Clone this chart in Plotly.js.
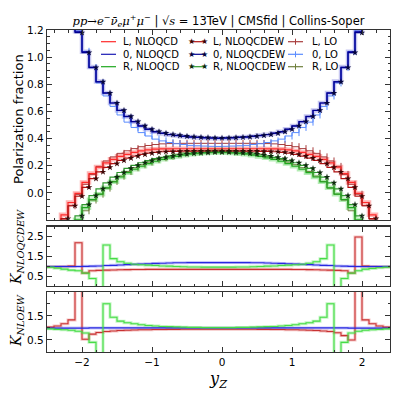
<!DOCTYPE html>
<html>
<head>
<meta charset="utf-8">
<script src="https://cdn.plot.ly/plotly-3.0.1.min.js"></script>
<style>
  html, body { margin: 0; padding: 0; background: #fff; }
  #chart { width: 399px; height: 399px; }
</style>
</head>
<body>
<div id="chart"></div>
<script>
// yZ bin positions (each value is drawn as a step ending at its x, like mpl step 'pre')
const yZ = [-2.5,-2.4,-2.3,-2.2,-2.1,-2.0,-1.9,-1.8,-1.7,-1.6,-1.5,-1.4,-1.3,-1.2,-1.1,-1.0,-0.9,-0.8,-0.7,-0.6,-0.5,-0.4,-0.3,-0.2,-0.1,0.0,
            0.1,0.2,0.3,0.4,0.5,0.6,0.7,0.8,0.9,1.0,1.1,1.2,1.3,1.4,1.5,1.6,1.7,1.8,1.9,2.0,2.1,2.2,2.3,2.4,2.5];

// polarization fractions, longitudinal (0)
const f0_nloqcd   = [2.57,2.17,1.84,1.57,1.37,1.19,1.04,0.927,0.82,0.736,0.662,0.607,0.562,0.524,0.492,0.468,0.45,0.438,0.428,0.422,0.416,0.411,0.408,0.405,0.403,0.402,
                     0.403,0.405,0.408,0.411,0.416,0.422,0.428,0.438,0.45,0.468,0.492,0.524,0.562,0.607,0.662,0.736,0.82,0.927,1.04,1.19,1.37,1.57,1.84,2.17,2.57];
const f0_nloqcdew = [2.55,2.15,1.82,1.56,1.36,1.18,1.033,0.923,0.818,0.735,0.662,0.608,0.563,0.525,0.493,0.469,0.451,0.44,0.43,0.424,0.418,0.413,0.41,0.407,0.405,0.404,
                     0.405,0.407,0.41,0.413,0.418,0.424,0.43,0.44,0.451,0.469,0.493,0.525,0.563,0.608,0.662,0.735,0.818,0.923,1.033,1.18,1.36,1.56,1.82,2.15,2.55];
const f0_lo       = [2.6,2.19,1.86,1.59,1.39,1.2,1.043,0.923,0.81,0.714,0.637,0.574,0.521,0.482,0.444,0.419,0.396,0.383,0.371,0.362,0.356,0.35,0.347,0.345,0.343,0.342,
                     0.343,0.345,0.347,0.35,0.356,0.362,0.371,0.383,0.396,0.419,0.444,0.482,0.521,0.574,0.637,0.714,0.81,0.923,1.043,1.2,1.39,1.59,1.86,2.19,2.6];
// left-handed (L)
const fL_nloqcd   = [-0.485,-0.388,-0.278,-0.162,-0.071,-0.004,0.077,0.142,0.19,0.221,0.247,0.269,0.284,0.298,0.309,0.317,0.322,0.324,0.324,0.325,0.325,0.325,0.325,0.325,0.325,0.325,
                     0.325,0.325,0.325,0.325,0.325,0.325,0.324,0.324,0.322,0.317,0.309,0.298,0.284,0.269,0.247,0.221,0.19,0.142,0.077,-0.004,-0.071,-0.162,-0.278,-0.388,-0.485];
const fL_nloqcdew = [-0.5,-0.4,-0.3,-0.19,-0.095,-0.025,0.041,0.105,0.154,0.188,0.215,0.239,0.256,0.271,0.284,0.293,0.299,0.303,0.305,0.306,0.307,0.307,0.307,0.307,0.307,0.307,
                     0.307,0.307,0.307,0.307,0.307,0.306,0.305,0.303,0.299,0.293,0.284,0.271,0.256,0.239,0.215,0.188,0.154,0.105,0.041,-0.025,-0.095,-0.19,-0.3,-0.4,-0.5];
const fL_lo       = [-0.515,-0.412,-0.309,-0.194,-0.095,-0.011,0.063,0.136,0.195,0.235,0.265,0.291,0.31,0.326,0.34,0.349,0.356,0.361,0.363,0.364,0.365,0.365,0.365,0.365,0.365,0.365,
                     0.365,0.365,0.365,0.365,0.365,0.364,0.363,0.361,0.356,0.349,0.34,0.326,0.31,0.291,0.265,0.235,0.195,0.136,0.063,-0.010,-0.095,-0.194,-0.309,-0.412,-0.515];
// right-handed (R)
const fR_nloqcd   = [-0.567,-0.49,-0.415,-0.359,-0.278,-0.198,-0.109,-0.05,-0.01,0.037,0.081,0.117,0.149,0.174,0.196,0.216,0.233,0.247,0.258,0.268,0.278,0.285,0.289,0.294,0.296,0.297,
                     0.296,0.294,0.289,0.285,0.278,0.268,0.258,0.247,0.233,0.216,0.196,0.174,0.149,0.117,0.081,0.037,-0.01,-0.05,-0.109,-0.198,-0.278,-0.359,-0.415,-0.49,-0.567];
const fR_nloqcdew = [-0.55,-0.47,-0.39,-0.33,-0.25,-0.17,-0.086,-0.02,0.029,0.073,0.116,0.15,0.18,0.203,0.222,0.238,0.252,0.262,0.271,0.279,0.286,0.291,0.295,0.297,0.299,0.3,
                     0.299,0.297,0.295,0.291,0.286,0.279,0.271,0.262,0.252,0.238,0.222,0.203,0.18,0.15,0.116,0.073,0.029,-0.02,-0.086,-0.17,-0.25,-0.33,-0.39,-0.47,-0.55];
const fR_lo       = [-0.567,-0.495,-0.433,-0.388,-0.31,-0.22,-0.132,-0.053,-0.01,0.035,0.084,0.123,0.157,0.185,0.207,0.227,0.245,0.259,0.271,0.285,0.295,0.303,0.309,0.313,0.315,0.316,
                     0.315,0.313,0.309,0.303,0.295,0.285,0.271,0.259,0.245,0.227,0.207,0.185,0.157,0.123,0.084,0.035,-0.01,-0.053,-0.132,-0.22,-0.31,-0.388,-0.433,-0.495,-0.567];

// K_NLOQCDEW = NLOQCDEW / LO
const kqcdew_L = [0.97,0.97,0.97,0.98,1.0,2.18,0.65,0.77,0.79,0.8,0.81,0.82,0.825,0.83,0.835,0.84,0.84,0.84,0.84,0.84,0.84,0.84,0.84,0.84,0.84,0.84,
                  0.84,0.84,0.84,0.84,0.84,0.84,0.84,0.84,0.84,0.84,0.835,0.83,0.825,0.82,0.81,0.8,0.79,0.77,0.65,2.47,1.0,0.98,0.97,0.97,0.97];
const kqcdew_0 = [0.98,0.98,0.98,0.98,0.98,0.98,0.99,1.0,1.01,1.03,1.04,1.06,1.08,1.09,1.11,1.12,1.14,1.15,1.16,1.17,1.175,1.18,1.18,1.18,1.18,1.18,
                  1.18,1.18,1.18,1.18,1.175,1.17,1.16,1.15,1.14,1.12,1.11,1.09,1.08,1.06,1.04,1.03,1.01,1.0,0.99,0.98,0.98,0.98,0.98,0.98,0.98];
const kqcdew_R = [0.97,0.95,0.9,0.85,0.8,0.77,0.65,0.38,-2.9,2.07,1.38,1.22,1.15,1.1,1.07,1.05,1.03,1.01,1.0,0.98,0.97,0.96,0.955,0.95,0.95,0.95,
                  0.95,0.95,0.955,0.96,0.97,0.98,1.0,1.01,1.03,1.05,1.07,1.1,1.15,1.22,1.38,2.07,-2.9,0.38,0.65,0.77,0.85,0.88,0.92,0.95,0.97];
// K_NLOEW = NLOQCDEW / NLOQCD
const kew_L = [1.03,1.03,1.08,1.17,1.33,6.0,0.53,0.74,0.81,0.85,0.87,0.89,0.9,0.91,0.92,0.925,0.93,0.935,0.94,0.94,0.945,0.945,0.945,0.945,0.945,0.945,
               0.945,0.945,0.945,0.945,0.945,0.94,0.94,0.935,0.93,0.925,0.92,0.91,0.9,0.89,0.87,0.85,0.8,0.68,0.5,6.0,1.33,1.17,1.08,1.03,1.03];
const kew_0 = [0.99,0.99,0.99,0.99,0.99,0.99,0.99,1.0,1.0,1.0,1.0,1.0,1.0,1.0,1.0,1.0,1.0,1.0,1.0,1.0,1.0,1.0,1.0,1.0,1.0,1.0,
               1.0,1.0,1.0,1.0,1.0,1.0,1.0,1.0,1.0,1.0,1.0,1.0,1.0,1.0,1.0,1.0,1.0,1.0,0.99,0.99,0.99,0.99,0.99,0.99,0.99];
const kew_R = [0.97,0.96,0.94,0.92,0.9,0.86,0.79,0.4,-3.0,2.0,1.44,1.28,1.21,1.17,1.13,1.1,1.08,1.06,1.05,1.04,1.03,1.02,1.02,1.01,1.01,1.01,
               1.01,1.01,1.02,1.02,1.03,1.04,1.05,1.06,1.08,1.1,1.13,1.17,1.21,1.28,1.44,2.0,-3.0,0.4,0.79,0.86,0.9,0.92,0.94,0.96,0.97];

const legendNames = [
  ['L, NLOQCD', 'L, NLOQCDEW', 'L, LO'],
  ['0, NLOQCD', '0, NLOQCDEW', '0, LO'],
  ['R, NLOQCD', 'R, NLOQCDEW', 'R, LO']
];

// colours per polarization
const styles = [
  {qcd: '#ff2a2a', ew: '#b01010', lo: '#a83c3c', band: 'rgba(255,40,40,0.35)', star: '#3c0505', k: '#c83232', kPale: 'rgba(225,90,90,0.35)'},
  {qcd: '#1a1ab4', ew: '#000090', lo: '#5a8cff', band: 'rgba(30,30,200,0.25)', star: '#05053c', k: '#2828e0', kPale: 'rgba(70,70,240,0.3)'},
  {qcd: '#1fa81f', ew: '#2e9a2e', lo: '#6e7f3c', band: 'rgba(40,200,40,0.35)', star: '#0c2a0c', k: '#46dc46', kPale: 'rgba(80,225,80,0.35)'}
];

const M = {l: 47, r: 9, t: 0, b: 0};
const W = 399 - M.l - M.r, H = 399;
const fx = p => (p - M.l) / W;
const fy = p => 1 - p / H;

function step(y, xa, ya, line, extra) {
  return Object.assign({
    x: yZ, y: y, xaxis: xa, yaxis: ya, type: 'scatter', mode: 'lines',
    line: Object.assign({shape: 'vh'}, line),
    showlegend: false, hoverinfo: 'skip'
  }, extra || {});
}

const qcd = [fL_nloqcd, f0_nloqcd, fR_nloqcd];
const ew = [fL_nloqcdew, f0_nloqcdew, fR_nloqcdew];
const lo = [fL_lo, f0_lo, fR_lo];
const kqcdew = [kqcdew_L, kqcdew_0, kqcdew_R];
const kew = [kew_L, kew_0, kew_R];

const traces = [];
// bands under the NLOQCD lines
styles.forEach((s, i) => traces.push(step(qcd[i], 'x', 'y', {color: s.band, width: 4.5})));
styles.forEach((s, i) => traces.push(step(lo[i], 'x', 'y', {color: s.lo, width: 1},
  {mode: 'lines+markers', marker: {symbol: 'line-ns-open', size: 5, line: {width: 1, color: s.lo}}})));
styles.forEach((s, i) => traces.push(step(qcd[i], 'x', 'y', {color: s.qcd, width: 1.2})));
styles.forEach((s, i) => traces.push(step(ew[i], 'x', 'y', {color: s.ew, width: 1.2},
  {mode: 'lines+markers', marker: {symbol: 'star', size: 5, color: s.star, line: {width: 0}}})));

// ratio panels
styles.forEach((s, i) => traces.push(step(kqcdew[i], 'x2', 'y2', {color: s.kPale, width: 3})));
styles.forEach((s, i) => traces.push(step(kqcdew[i], 'x2', 'y2', {color: s.k, width: 1.1})));
styles.forEach((s, i) => traces.push(step(kew[i], 'x3', 'y3', {color: s.kPale, width: 3})));
styles.forEach((s, i) => traces.push(step(kew[i], 'x3', 'y3', {color: s.k, width: 1.1})));

// hand-made legend, 3 columns x 3 rows like the matplotlib one
const shapes = [], annotations = [];
const rowY = [41.7, 54.3, 66.7];
const sampleX = [[101, 116], [191, 204], [288, 303]];
const textX = [121, 211, 310];
legendNames.forEach((row, r) => {
  const s = styles[r];
  row.forEach((name, c) => {
    const col = [s.qcd, s.ew, s.lo][c];
    shapes.push({type: 'line', xref: 'paper', yref: 'paper',
      x0: fx(sampleX[c][0]), x1: fx(sampleX[c][1]), y0: fy(rowY[r]), y1: fy(rowY[r]),
      line: {color: col, width: 1.2}});
    if (c === 2) {
      const xm = (sampleX[c][0] + sampleX[c][1]) / 2;
      shapes.push({type: 'line', xref: 'paper', yref: 'paper',
        x0: fx(xm), x1: fx(xm), y0: fy(rowY[r] - 3), y1: fy(rowY[r] + 3),
        line: {color: col, width: 1}});
    }
    if (c === 1) {
      sampleX[c].forEach(px => annotations.push({xref: 'paper', yref: 'paper', x: fx(px), y: fy(rowY[r]),
        text: '★', showarrow: false, xanchor: 'center', yanchor: 'middle',
        font: {size: 8, color: s.star, family: 'DejaVu Sans'}}));
    }
    annotations.push({xref: 'paper', yref: 'paper', x: fx(textX[c]), y: fy(rowY[r]),
      text: name, showarrow: false, xanchor: 'left', yanchor: 'middle',
      font: {size: 10, color: '#000', family: 'DejaVu Sans'}});
  });
});

// y-axis labels placed where matplotlib put them
annotations.push({xref: 'paper', yref: 'paper', x: fx(18), y: fy(119), textangle: -90,
  text: 'Polarization fraction', showarrow: false, xanchor: 'center', yanchor: 'middle',
  font: {size: 13, family: 'DejaVu Sans', color: '#000'}});
annotations.push({xref: 'paper', yref: 'paper', x: fx(17), y: fy(247), textangle: -90,
  text: '<i>K</i><sub><i>NLOQCDEW</i></sub>', showarrow: false, xanchor: 'center', yanchor: 'middle',
  font: {size: 14, family: 'DejaVu Serif', color: '#000'}});
annotations.push({xref: 'paper', yref: 'paper', x: fx(17), y: fy(321), textangle: -90,
  text: '<i>K</i><sub><i>NLOEW</i></sub>', showarrow: false, xanchor: 'center', yanchor: 'middle',
  font: {size: 14, family: 'DejaVu Serif', color: '#000'}});

const frame = {
  showline: true, linecolor: '#333', linewidth: 1.2, mirror: 'allticks',
  ticks: 'inside', ticklen: 5, tickcolor: '#333', showgrid: false, zeroline: false,
  tickfont: {family: 'DejaVu Sans', size: 10.5, color: '#000'}
};
const xbase = Object.assign({}, frame, {
  range: [-2.5, 2.4], dtick: 1, tick0: 0,
  minor: {dtick: 0.2, tick0: 0, ticks: 'inside', ticklen: 2.5, tickcolor: '#333'}
});

const layout = {
  width: 399, height: 399,
  margin: M,
  paper_bgcolor: '#fff', plot_bgcolor: '#fff',
  showlegend: false,
  font: {family: 'DejaVu Sans', color: '#000'},
  title: {
    text: '<span style="font-family:DejaVu Serif"><i>pp</i>→<i>e</i><sup>−</sup><i>ν̄</i><sub><i>e</i></sub><i>μ</i><sup>+</sup><i>μ</i><sup>−</sup></span>' +
          ' | √<span style="font-family:DejaVu Serif"><i>s</i></span> = 13TeV | CMSfid | Collins-Soper',
    font: {family: 'DejaVu Sans', size: 11.5, color: '#000'},
    x: 0.5, xref: 'paper', xanchor: 'center',
    y: fy(21), yref: 'paper', yanchor: 'middle'
  },
  xaxis: Object.assign({}, xbase, {domain: [0, 1], anchor: 'y', showticklabels: false}),
  yaxis: Object.assign({}, frame, {
    domain: [fy(220), fy(30)], anchor: 'x', range: [-0.2, 1.2],
    tickvals: [0, 0.2, 0.4, 0.6, 0.8, 1.0, 1.2], tickformat: '.1f',
    minor: {dtick: 0.05, tick0: 0, ticks: 'inside', ticklen: 2.5, tickcolor: '#333'}
  }),
  xaxis2: Object.assign({}, xbase, {domain: [0, 1], anchor: 'y2', matches: 'x', showticklabels: false}),
  yaxis2: Object.assign({}, frame, {
    domain: [fy(286), fy(226.5)], anchor: 'x2', range: [0, 3],
    tickvals: [0.5, 1.5, 2.5],
    minor: {dtick: 0.5, tick0: 0, ticks: 'inside', ticklen: 2.5, tickcolor: '#333'}
  }),
  xaxis3: Object.assign({}, xbase, {domain: [0, 1], anchor: 'y3', matches: 'x',
    title: {text: '<i>y</i><sub><i>Z</i></sub>', font: {family: 'DejaVu Serif', size: 16}, standoff: 6}}),
  yaxis3: Object.assign({}, frame, {
    domain: [fy(352), fy(291.7)], anchor: 'x3', range: [0, 2.5],
    tickvals: [0.5, 1.5],
    minor: {dtick: 0.5, tick0: 0, ticks: 'inside', ticklen: 2.5, tickcolor: '#333'}
  }),
  shapes: shapes,
  annotations: annotations
};

Plotly.newPlot('chart', traces, layout, {staticPlot: true, displayModeBar: false});
</script>
</body>
</html>
